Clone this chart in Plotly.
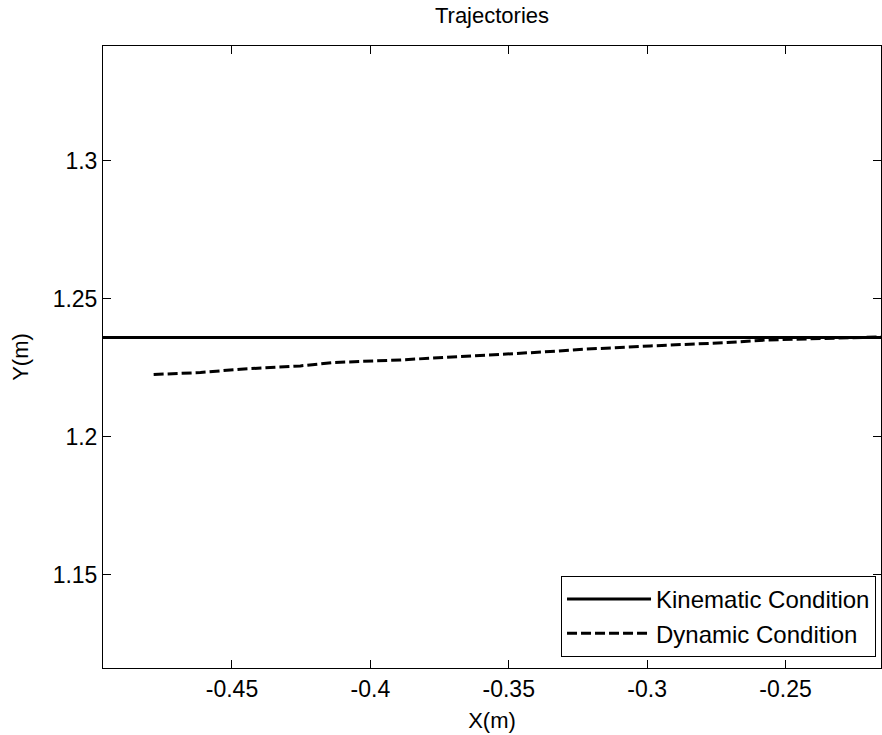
import plotly.graph_objects as go

# Data
kinematic_x = [-0.50, -0.21]
kinematic_y = [1.2360, 1.2360]

dynamic_x = [-0.4783, -0.4614, -0.4469, -0.4253, -0.4134, -0.3892, -0.3350,
             -0.3231, -0.2989, -0.2711, -0.2567, -0.2386, -0.2140]
dynamic_y = [1.22256, 1.22328, 1.22448, 1.22567, 1.22690, 1.22784, 1.23087,
             1.23171, 1.23290, 1.23413, 1.23507, 1.23558, 1.23620]

x_ticks = [-0.45, -0.4, -0.35, -0.3, -0.25]
x_tick_labels = ["-0.45", "-0.4", "-0.35", "-0.3", "-0.25"]
y_ticks = [1.15, 1.2, 1.25, 1.3]
y_tick_labels = ["1.15", "1.2", "1.25", "1.3"]

FONT = "Liberation Sans, Arial, Helvetica, sans-serif"

fig = go.Figure()
fig.add_trace(go.Scatter(x=kinematic_x, y=kinematic_y, mode="lines",
                         name="Kinematic Condition",
                         line=dict(color="black", width=3)))
fig.add_trace(go.Scatter(x=dynamic_x, y=dynamic_y, mode="lines",
                         name="Dynamic Condition",
                         line=dict(color="black", width=3, dash="10px,4px")))

axis_common = dict(showgrid=False, zeroline=False, showline=True, linecolor="black",
                   linewidth=1, mirror="allticks", ticks="inside", ticklen=8,
                   tickcolor="black", tickwidth=1,
                   tickfont=dict(family=FONT, size=23, color="black"))

fig.update_layout(
    width=882, height=735,
    margin=dict(l=103, r=1, t=46, b=67),
    paper_bgcolor="white", plot_bgcolor="white",
    font=dict(family=FONT, size=22, color="black"),
    title=dict(text="Trajectories", xref="paper", x=0.5, xanchor="center",
               yref="container", y=0.9796, yanchor="middle",
               font=dict(family=FONT, size=22, color="black")),
    xaxis=dict(range=[-0.4966, -0.2155], tickvals=x_ticks, ticktext=x_tick_labels,
               title=dict(text="X(m)", standoff=12, font=dict(family=FONT, size=22)),
               **axis_common),
    yaxis=dict(range=[1.1162, 1.3416], tickvals=y_ticks, ticktext=y_tick_labels,
               title=dict(text="Y(m)", standoff=17, font=dict(family=FONT, size=22)),
               **axis_common),
    legend=dict(x=0.9936, y=0.0177, xanchor="right", yanchor="bottom",
                bgcolor="white", bordercolor="black", borderwidth=1,
                font=dict(family=FONT, size=24, color="black"),
                itemwidth=84, tracegroupgap=0),
    showlegend=True,
)

fig.write_html("out.html", config={"displayModeBar": False},
               post_script="document.body.style.margin='0px';document.body.style.overflow='hidden';")
